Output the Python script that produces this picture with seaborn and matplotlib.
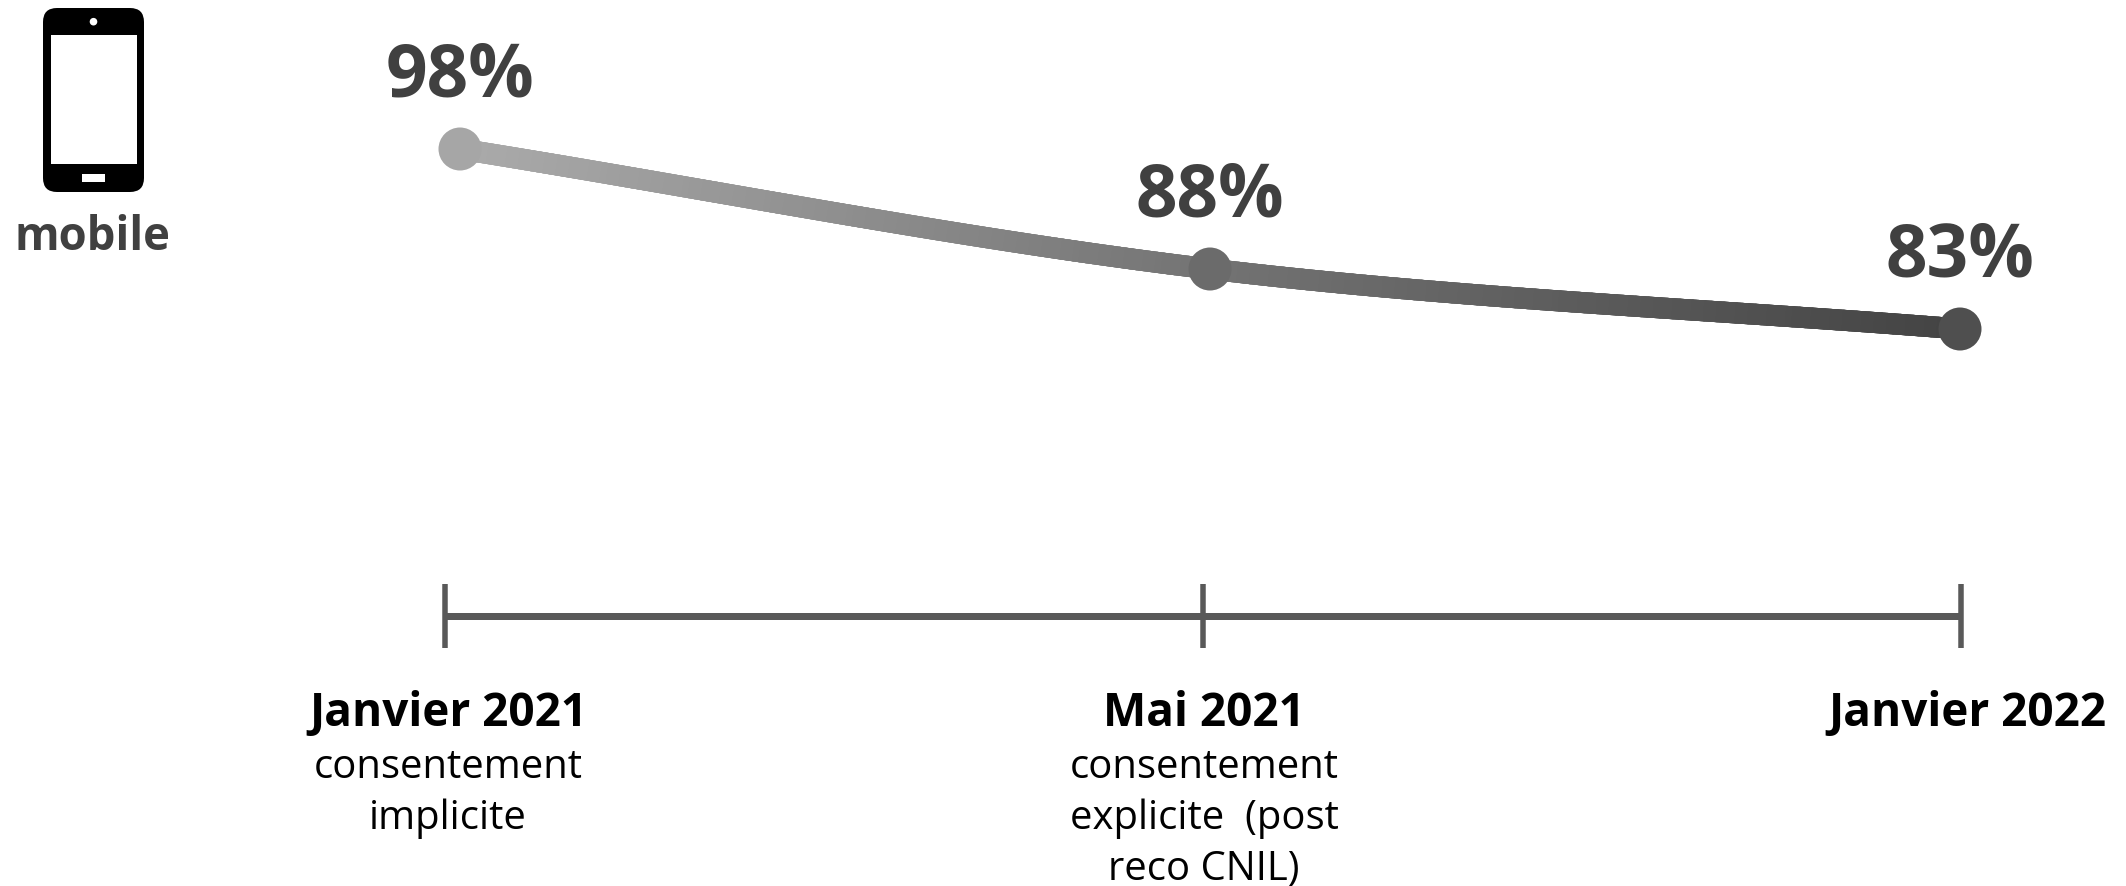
import numpy as np
import pandas as pd
import seaborn as sns
import matplotlib
matplotlib.use("Agg")
import matplotlib.pyplot as plt
from matplotlib.bezier import BezierSegment
from matplotlib.collections import LineCollection
from matplotlib.colors import LinearSegmentedColormap
from matplotlib.patches import Circle, FancyBboxPatch, Rectangle

# Data
periods = ["Janvier 2021", "Mai 2021", "Janvier 2022"]
shares = [98, 88, 83]
share_labels = ["98%", "88%", "83%"]
period_notes = ["consentement\nimplicite", "consentement\nexplicite  (post\nreco CNIL)", ""]
device_label = "mobile"

# Styling
W, H = 2126, 886
DPI = 100
TEXT_GREY = "#404040"
POINT_COLORS = ["#a6a6a6", "#6b6b6b", "#4f4f4f"]
RAMP = ["#ababab", "#747474", "#444444"]
FONT = "Open Sans"
LABEL_NUDGE_PX = [3, 1, 6]

sns.set_theme(style="white")
plt.rcParams["font.family"] = [FONT, "DejaVu Sans"]


def px_to_pt(px):
    return px * 72 / DPI


fig = plt.figure(figsize=(W / DPI, H / DPI), dpi=DPI, facecolor="white")

# Main series: category index 0..2 and percentage scale laid over the whole canvas
ax = fig.add_axes([0, 0, 1, 1])

xs = np.arange(len(shares), dtype=float)
ys = np.array(shares, dtype=float)

# Smooth stroke through the three points, shaded from light to dark along its length
pts = np.column_stack([xs, ys])
tangent = (pts[2] - pts[0]) / 2
ctrl_a = [pts[0], pts[0] + (pts[1] - pts[0]) / 3, pts[1] - tangent / 3, pts[1]]
ctrl_b = [pts[1], pts[1] + tangent / 3, pts[2] - (pts[2] - pts[1]) / 3, pts[2]]
t = np.linspace(0, 1, 120)
curve = np.vstack([BezierSegment(np.array(ctrl_a)).point_at_t(t),
                   BezierSegment(np.array(ctrl_b)).point_at_t(t)[1:]])
segments = np.stack([curve[:-1], curve[1:]], axis=1)
ramp = LinearSegmentedColormap.from_list("ramp", RAMP)
stroke = LineCollection(segments, cmap=ramp, linewidths=px_to_pt(21),
                        capstyle="projecting", zorder=2)
stroke.set_array(np.linspace(0, 1, len(segments)))
ax.add_collection(stroke)

frame = pd.DataFrame({"position": xs, "share": ys, "period": periods})
sns.scatterplot(data=frame, x="position", y="share", hue="period", hue_order=periods,
                palette=POINT_COLORS, s=px_to_pt(43) ** 2, linewidth=0, legend=False,
                ax=ax, zorder=3)
ax.set_xlim(-460 / 750, (W - 460) / 750)
ax.set_ylim(98 - (H - 149) / 12, 98 + 149 / 12)
ax.axis("off")

for x, y, label in zip(xs, ys, share_labels):
    ax.annotate(label, (x, y), xytext=(0, px_to_pt(52.5)), textcoords="offset points",
                ha="center", va="baseline", fontsize=52.5, fontweight="bold",
                color=TEXT_GREY, zorder=4)

# Timeline with its own spacing, one tick per period
tl = fig.add_axes([0, 0, 1, 1], facecolor="none")
tl.set_xlim(-445 / 758, (W - 445) / 758)
tl.set_ylim(H, 0)
tl.axis("off")
tick_x = np.arange(len(periods))
tl.plot([tick_x[0], tick_x[-1]], [616, 616], color="#595959", lw=px_to_pt(7),
        solid_capstyle="butt")
tl.vlines(tick_x, 584, 648, color="#595959", lw=px_to_pt(5.5))
for x, period, note, nudge in zip(tick_x, periods, period_notes, LABEL_NUDGE_PX):
    tl.annotate(period, (x, 726), xytext=(px_to_pt(nudge), 0), textcoords="offset points",
                ha="center", va="baseline", fontsize=33, fontweight="bold", color="black")
    for i, line in enumerate(note.split("\n") if note else []):
        tl.annotate(line, (x, 778 + i * 51), xytext=(px_to_pt(nudge), 0),
                    textcoords="offset points", ha="center", va="baseline",
                    fontsize=28.8, color="black")

# Phone pictogram and device caption, placed in canvas pixels
deco = fig.add_axes([0, 0, 1, 1], facecolor="none")
deco.set_xlim(0, W)
deco.set_ylim(H, 0)
deco.axis("off")
deco.add_patch(FancyBboxPatch((57, 22), 73, 156, boxstyle="round,pad=14,rounding_size=14",
                              fc="black", ec="none"))
deco.add_patch(Rectangle((50.5, 35), 86, 129, fc="white", ec="none"))
deco.add_patch(Circle((93.5, 21.7), 3.8, fc="white", ec="none"))
deco.add_patch(Rectangle((82, 174), 22.5, 8, fc="white", ec="none"))
deco.text(93, 250, device_label, ha="center", va="baseline", fontsize=32.8,
          fontweight="bold", color=TEXT_GREY)

fig.savefig("out.png", dpi=DPI, facecolor="white")
